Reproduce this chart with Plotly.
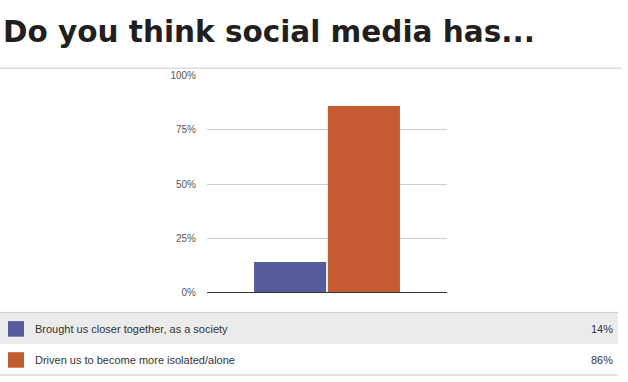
import plotly.graph_objects as go

title = "Do you think social media has..."
labels = ["Brought us closer together, as a society",
          "Driven us to become more isolated/alone"]
values = [14, 86]
colors = ["#565c9b", "#c45b31"]
tick_vals = [0, 25, 50, 75, 100]
tick_text = ["0%", "25%", "50%", "75%", "100%"]

W, H = 628, 382

def px(x):
    return x / W

def py(y):
    return 1 - y / H

fig = go.Figure()
for lab, v, c in zip(labels, values, colors):
    fig.add_trace(go.Bar(x=["Q"], y=[v], name=lab, marker=dict(color=c, line=dict(width=0)),
                         hoverinfo="skip"))

fig.update_layout(
    width=W, height=H,
    margin=dict(l=0, r=0, t=0, b=0),
    paper_bgcolor="white", plot_bgcolor="white",
    showlegend=False,
    barmode="group", bargap=0.385, bargroupgap=0.023,
    xaxis=dict(domain=[px(207), px(447)], showticklabels=False, showgrid=False,
               showline=True, linecolor="#333333", linewidth=1, ticks="", zeroline=False,
               fixedrange=True),
    yaxis=dict(domain=[py(296), py(72.7)], range=[0, 100], tickvals=tick_vals, ticktext=tick_text,
               showgrid=True, gridcolor="#cccccc", gridwidth=1, zeroline=False,
               ticks="", ticklabelstandoff=10,
               tickfont=dict(family="Liberation Sans, Arial, sans-serif", size=10, color="#555555"),
               fixedrange=True),
)

shapes = []
annotations = []

# title
annotations.append(dict(x=px(1), y=py(28), xref="paper", yref="paper", xanchor="left", yanchor="middle",
                        text="<b>" + title + "</b>", showarrow=False,
                        font=dict(family="DejaVu Sans, Verdana, sans-serif", size=29.5, color="#231f20")))
# top rule
shapes.append(dict(type="line", xref="paper", yref="paper", x0=0, x1=px(622), y0=py(65), y1=py(65),
                   line=dict(color="#c8c8c8", width=1)))

# legend table
row_top = 317
row_h = 32
shapes.append(dict(type="line", xref="paper", yref="paper", x0=0, x1=px(618), y0=py(316.5), y1=py(316.5),
                   line=dict(color="#c8c8c8", width=1)))
for i, (lab, v, c) in enumerate(zip(labels, values, colors)):
    y0 = row_top + i * row_h
    yc = y0 + 16.5
    if i == 0:
        shapes.append(dict(type="rect", xref="paper", yref="paper", x0=px(0), x1=px(618),
                           y0=py(y0), y1=py(y0 + row_h), fillcolor="#ebebeb", line=dict(width=0), layer="below"))
    shapes.append(dict(type="rect", xref="paper", yref="paper", x0=px(8), x1=px(24),
                       y0=py(yc - 8), y1=py(yc + 8), fillcolor=c, line=dict(width=0)))
    annotations.append(dict(x=px(33), y=py(yc), xref="paper", yref="paper", xanchor="left", yanchor="middle",
                            text=lab, showarrow=False,
                            font=dict(family="Liberation Sans, Arial, sans-serif", size=11, color="#333333")))
    annotations.append(dict(x=px(615), y=py(yc), xref="paper", yref="paper", xanchor="right", yanchor="middle",
                            text=f"{v}%", showarrow=False,
                            font=dict(family="Liberation Sans, Arial, sans-serif", size=11, color="#333333")))
shapes.append(dict(type="line", xref="paper", yref="paper", x0=0, x1=px(618), y0=py(381), y1=py(381),
                   line=dict(color="#c8c8c8", width=1)))

fig.update_layout(shapes=shapes, annotations=annotations)
fig.write_html("out.html", config={"displayModeBar": False},
               post_script="document.body.style.margin='0';document.body.style.overflow='hidden';")
